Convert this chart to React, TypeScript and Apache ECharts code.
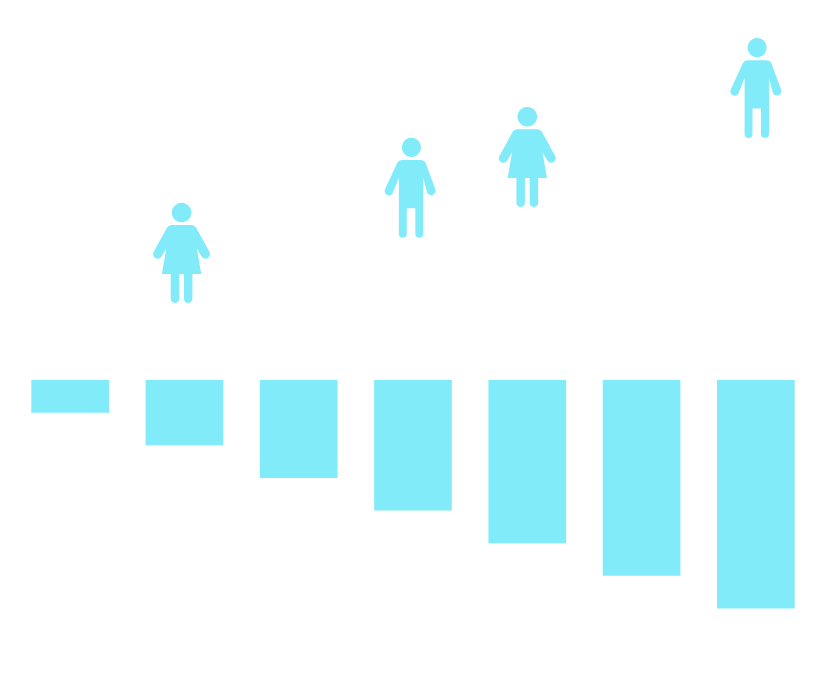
import React, { useEffect, useRef } from "react";
import * as echarts from "echarts";

const categories = ["A", "B", "C", "D", "E", "F", "G"];
const barValues = [10, 20, 30, 40, 50, 60, 70];
const iconPositions = [1.475, 3.475, 4.5, 6.5];
const iconValues = [39, 59, 68.4, 89.6];
const iconKinds = ["woman", "man", "woman", "man"];

const COLOR = "#82ebfa";

const WOMAN =
  "path://M125 24a29 29 0 1 1-.01 0ZM95 90H155Q163 90 168 98L207 170A13 13 0 0 1 184 184L170 160L183 236H157V310A12.5 12.5 0 0 1 132 310V236H118V310A12.5 12.5 0 0 1 93 310V236H67L80 160L66 184A13 13 0 0 1 43 170L82 98Q87 90 95 90Z";
const MAN =
  "path://M110 23a29 29 0 1 1-.01 0ZM80 90H139Q149 90 153 98L182 175A13 13 0 0 1 158 188L146 143V310A12 12 0 0 1 122 310V234H96V310A12 12 0 0 1 72 310V143L54 188A13 13 0 0 1 30 177L67 98Q71 90 80 90Z";

export default function App() {
  const ref = useRef<HTMLDivElement>(null);

  useEffect(() => {
    const chart = echarts.init(ref.current!, undefined, { renderer: "svg" });
    chart.setOption({
      animation: false,
      backgroundColor: "#ffffff",
      grid: [
        { left: 13, width: 800, top: 380, height: 228.4 },
        { left: 13, width: 800, top: 21.4, height: 358.6 },
      ],
      xAxis: [
        { type: "category", gridIndex: 0, data: categories, show: false },
        { type: "value", gridIndex: 1, min: 0, max: 7, show: false },
      ],
      yAxis: [
        { type: "value", gridIndex: 0, inverse: true, min: 0, max: 70, show: false },
        { type: "value", gridIndex: 1, min: 0, max: 110, show: false },
      ],
      series: [
        {
          type: "bar",
          xAxisIndex: 0,
          yAxisIndex: 0,
          barWidth: 77.7,
          itemStyle: { color: COLOR },
          data: barValues,
        },
        {
          type: "scatter",
          xAxisIndex: 1,
          yAxisIndex: 1,
          itemStyle: { color: COLOR, opacity: 1 },
          data: iconValues.map((v, i) => ({
            value: [iconPositions[i], v],
            symbol: iconKinds[i] === "woman" ? WOMAN : MAN,
            symbolSize: iconKinds[i] === "woman" ? [57, 100] : [51, 100],
          })),
        },
      ],
    });
    return () => chart.dispose();
  }, []);

  return (
    <div
      ref={ref}
      style={{ position: "absolute", left: 0, top: 0, width: 826, height: 681 }}
    />
  );
}
